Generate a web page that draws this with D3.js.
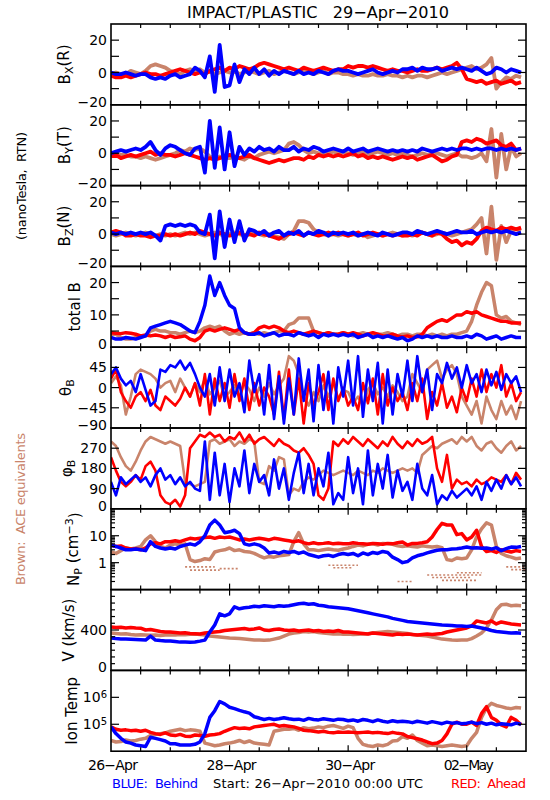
<!DOCTYPE html>
<html><head><meta charset="utf-8">
<script src="https://cdn.jsdelivr.net/npm/d3@7"></script>
<style>body{margin:0;background:#fff}svg{display:block}text{font-family:"DejaVu Sans",sans-serif}</style>
</head><body><svg id="c" width="550" height="800"></svg>
<script>
// ---- time grid: one value every 2 hours from 26-Apr-2010 00:00 UTC ----
const stepHours = 2;
const startDate = Date.UTC(2010, 3, 26);
const endDate = Date.UTC(2010, 4, 3);
const dayLabels = ["26-Apr", "28-Apr", "30-Apr", "02-May"];
const dayLabelHours = [0, 48, 96, 144];

// ---- Bx (R), nT ----
const bxBrown = [-1,0,-1,-1,1,0,-1,1,4,5,4,3, 1,0,-1,1,2,1,2,0,1,-1,0,1, 0,1,-1,0,1,0,-1,0,1,-1,0,1, 0,-1,0,1,0,-1,0,1,-1,0,0,-1, -1,-2,-1,-2,-2,-1,-2,-2,-1,-2,-2,-3, -2,-3,-2,-2,-3,-2,-1,0,-1,0,1,2, 3,4,2,3,5,9,-10,-6,-3,-4,-2,-3];
const bxRed = [-2,-3,-3,-2,-3,-2,-1,0,-1,-1,-2,-1, 0,1,2,1,0,-1,0,-1,1,2,3,1, 3,2,4,3,2,3,5,6,5,4,3,2, 3,2,1,3,2,1,2,3,2,1,2,2, 4,3,4,4,3,4,3,2,1,2,1,1, 0,1,2,1,1,2,3,2,3,4,6,2, -4,-5,-6,-5,-7,-6,-5,-7,-6,-5,-7,-6];
const bxBlue = [0,-1,-1,0,-1,-2,-1,-1,-3,-4,-3,-4, -2,-1,-3,-2,-1,3,1,-3,10,-12,17,-9, -8,5,-6,2,-1,3,-1,2,-2,1,-1,1, 0,-1,1,-1,0,-1,1,0,-1,1,2,1, 1,0,-1,0,1,2,0,-1,0,1,0,2, 2,3,1,3,2,2,3,1,2,3,2,3, 2,1,3,1,-1,0,3,2,0,2,1,0];
// ---- By (T), nT ----
const byBrown = [-1,0,-1,-1,-2,-2,-3,-2,-3,-4,-3,-2, -1,0,2,1,3,2,3,1,-2,-3,-2,-3, -3,-2,-3,-4,-2,-3,-1,0,1,0,1,2, 6,7,5,2,0,1,0,-1,0,1,0,1, 0,-1,0,1,-1,0,1,0,-1,0,-1,0, -1,-2,-1,0,-1,-1,0,-1,-2,-1,0,-2, -2,-3,-2,0,-5,15,-15,12,-10,4,-2,0];
const byRed = [-2,-1,-3,-2,-1,-2,-1,0,1,-1,0,-1, -1,-2,-1,0,-1,-2,-3,-4,-3,-4,-3,-2, -1,-2,-3,-2,-1,-3,-4,-5,-6,-5,-4,-5, -4,-3,-3,-4,-2,-3,-1,-2,-1,-2,-1,-2, -1,0,-2,-1,-3,-2,-3,-2,-3,-4,-3,-2, -3,-2,-4,-3,-2,-1,-3,-5,-4,-2,-1,7, 8,7,9,8,6,7,8,5,4,6,2,3];
const byBlue = [0,1,2,1,2,3,2,4,7,2,-1,3, 5,4,2,0,-1,3,4,-12,20,-9,16,-10, 13,-8,4,-1,3,1,4,2,3,1,4,2, 2,4,1,3,2,4,3,1,2,3,2,1, 3,1,2,3,1,2,3,2,1,2,1,2, 1,2,1,3,2,1,2,3,2,3,2,3, 3,2,3,2,3,3,2,3,2,3,2,3];
// ---- Bz (N), nT ----
const bzBrown = [0,-1,0,1,0,-1,0,1,0,-1,0,-1, 0,-1,0,1,0,1,0,-1,0,1,0,-1, 0,1,0,-1,0,1,0,-1,0,-1,-2,-3, 0,2,8,8,7,3,1,0,-1,0,-1,0, -1,0,-1,0,-2,-1,0,-1,0,1,0,-1, 0,-1,0,1,0,-1,0,1,0,-1,0,1, 2,3,6,10,-12,17,-16,5,-5,2,3,2];
const bzRed = [1,2,1,-1,-1,0,-1,-1,-2,-1,-1,0, -1,0,-1,0,1,0,2,1,0,-1,1,0, -1,0,1,-1,0,-1,1,0,-1,-2,-3,-1, 0,1,0,-1,1,0,-1,0,1,0,1,0, -1,0,1,-1,0,1,0,-1,0,-1,0,-1, -1,0,-1,1,0,-1,1,0,-3,-5,-4,-7, -5,-6,-3,2,4,3,2,4,3,4,3,4];
const bzBlue = [1,0,1,0,1,0,1,0,1,-1,-4,5, 6,5,6,5,6,5,1,0,12,-15,14,-8, 9,-5,8,-4,3,2,0,2,-1,1,2,-1, 1,0,2,-1,1,0,2,1,-1,1,0,1, 0,1,-1,0,1,0,-1,1,0,-1,0,1, 1,0,2,1,0,1,2,1,0,1,2,1, 1,2,0,1,2,1,2,1,2,1,0,1];
// ---- total B, nT ----
const btBrown = [4,4,3,2.5,2.5,3,3.5,3.5,5,5.5,5,5, 4.5,4.5,4,4.5,5,4.5,5,6,6.5,6,6.5,5, 4,4.5,4,4.5,4,4.5,4,4.5,4,4.5,5,5, 7,7.5,9,9,9,5,4.5,4,4.5,4,4,4.5, 4,3.5,4,4.5,4,3.5,4,4,4.5,4,3.5,4, 4,3.5,4,4,3.5,4,3.5,4,3.5,4,4,4.5, 5,8,13,17,20,19,10,9,9.5,8,7.5,7];
const btRed = [4.5,4.3,4.2,4.5,4.3,4,3.5,3.8,3.5,3.8,3.5,3, 3.5,3,3.2,3.5,2.5,2,3,5,5.5,5,5.5,6, 5.5,5,5.5,4.5,4,4.5,6,6.5,6,6.5,6,5, 4.5,5,4.5,4,4.5,5,4.5,4,4.5,4,4,4.5, 4,4.5,4,3.5,4,4.5,4,3.5,3.5,4,3.5,3.2, 3.5,3,3.2,4,6,7,8,8.5,8,9,10,10, 11,10.5,11,10,9.5,9,8.5,8,8,7.5,7.5,7.5];
const btBlue = [3,2.5,2.5,3,2.8,2.5,3,3.5,6,6.5,7,7.5, 8,7.5,7,6,5,4.5,8,13,22,16,20,16, 13,12,6,4.5,4,4,4.5,3.5,4,4.5,3.5,4, 4,3.5,4.5,4,3.5,4,3,4,3.5,4,3.5,4, 3.5,4,3,3.5,4,3,3.5,3,3.5,3,2.5,3, 2,2.5,3.5,3,3.5,3,3.5,3,3,3.5,3,3, 3.5,3,4,3.5,2.5,3,3.5,2.5,3,3.5,3,3];
// ---- theta_B, degrees ----
const thBrown = [10,25,5,-60,-20,30,40,35,30,20,0,10, 15,-10,20,0,-20,10,-10,20,-15,0,15,-20, -10,5,-20,10,-5,-30,0,-20,10,-15,5,20, 70,60,30,-20,-40,-10,-30,5,-20,10,-25,-5, -10,-35,-20,-40,-5,10,-15,0,-20,5,-10,-30, -20,30,10,-10,40,50,60,20,40,50,30,-20, -40,-60,-30,-80,-20,-50,-70,-30,-60,-40,-70,-30];
const thRed = [20,40,-10,-30,-45,-20,-10,-30,-5,-40,-50,-20, -30,-40,-25,0,-20,10,-40,30,-60,20,-30,10, -45,30,-30,20,-50,10,-40,0,-20,-60,35,-70, 40,-60,20,-80,10,-40,-10,30,-50,20,-30,0, -40,-20,-50,10,-35,20,-60,30,-40,0,-30,-10, -50,10,-30,20,-70,-10,-40,10,-45,-20,-55,0, -30,20,-20,40,-10,30,0,50,-20,10,-30,-10];
const thBlue = [30,45,20,5,15,-10,30,-5,-40,-30,40,35, 50,45,60,40,55,30,0,-20,30,-40,45,-30, 40,-20,10,-55,60,-10,30,-60,50,-70,25,-80, 20,-60,65,-30,40,-75,50,-50,35,-80,45,-20, 60,-40,70,-65,40,-30,55,-80,40,-60,30,-20, 60,-30,70,-10,40,-50,30,10,55,20,45,0, 50,10,30,-10,40,5,35,-5,30,10,25,-10];
// ---- phi_B, degrees ----
const phBrown = [300,280,230,190,170,210,260,300,320,310,300,290, 300,290,280,120,110,100,110,120,300,310,290,300, 310,280,300,290,310,300,120,110,190,170,230,220, 60,90,80,120,140,130,150,170,160,150,160,170, 160,150,170,160,150,170,160,180,170,160,170,180, 170,180,160,240,260,280,270,290,300,310,290,320, 300,320,280,260,290,300,270,250,280,300,260,280];
const phRed = [230,170,120,100,120,150,130,190,210,170,60,30, 20,40,10,60,270,300,330,320,340,320,330,300, 320,310,340,300,330,290,310,320,300,280,310,290, 280,260,250,270,240,200,60,40,90,300,280,310, 290,320,300,280,310,290,270,300,280,320,290,270, 300,280,310,290,300,320,180,120,240,90,130,110, 120,100,130,110,120,140,130,120,150,110,160,130];
const phBlue = [120,60,140,110,130,150,120,140,100,150,180,130, 150,110,140,100,120,90,80,300,40,250,60,200, 30,180,100,260,70,200,120,150,60,220,90,180, 40,160,250,70,200,60,180,100,250,20,70,40, 230,70,180,20,260,60,200,90,240,50,170,80, 120,40,200,90,60,150,20,60,40,80,50,70, 90,60,100,40,120,80,130,90,150,110,140,100];
// ---- Np, cm^-3 ----
const npBrown = [2.5,2.2,2.8,3.5,3.2,3.5,4,7,10,6,4,3.5, 4.5,5,4.5,5,1.3,1.1,1.2,1.4,1.3,2.5,2.8,3, 3.5,2.8,3,2.6,2.5,2.2,1.8,1.5,1.7,1.6,1.8,1.9, 2,6,13,5,3,3,2.8,3,3.2,3,2.9,3.2, 3.5,4,4.5,4.2,4.8,5,4.5,5.2,5,4.8,4.2,4, 4.2,4,3.8,4.2,4,3.8,4,3.6,1.3,1.2,1.5,1.4, 1.5,3,9,18,30,25,4,2.2,1.8,1.6,1.4,1.5];
const npRed = [4.5,4,4.2,3.5,3.2,3.3,3,3.5,5,5.5,5,6, 6,6.5,6,7,8,7.5,8,8.5,9,8,9,8.5, 9,8,7,7.5,7,7.5,8,7.5,7,8,7.5,7, 6.5,6,6.5,5.5,5,5.5,5,5.2,5.5,5,5.3,5, 5,5.5,5.2,5,4.8,5.2,5,4.8,5.2,5,5.5,5.8, 4.5,5.2,5.2,5.5,6,9,17,29,25,25,11,12, 7,9,16,4,2.6,2.8,2.4,3,2.7,2.5,2.8,2.6];
const npBlue = [4.5,4,3.5,3,3,3.2,3,2.8,6,4,3.5,3.2, 3.5,3.2,4,4.5,5,4.5,6,10,25,38,25,13, 14,16,12,5,4.5,5,4.5,3.5,2.3,2.5,2.2,2.6, 2.4,2.6,2.2,2.5,2,1.8,1.6,1.8,1.9,1.7,2,2.2, 2,2.2,1.8,2.3,2,2.4,2.2,2.6,2.4,1.6,1.3,1.0, 1.1,1.5,1.8,2,2.3,2.6,2.9,3,3,3.2,3.3,3.5, 3.8,3.5,3.6,3.4,3.5,3.2,3.6,2.8,3.3,3.8,3.7,4];
// sparse low-density ACE readings: [start hour, end hour, value]
const npBrownLow = [[30,42,0.7],[32,44,0.53],[44,52,0.6],[88,100,0.8],[90,98,0.65],[116,122,0.2],[128,150,0.35],[130,146,0.28],[134,148,0.22],[140,150,0.42],[160,168,0.7],[162,168,0.55]];
// ---- V, km/s ----
const vBrown = [370,365,360,362,355,350,352,350,348,350,345,350, 352,350,355,352,358,360,355,350,340,335,330,325, 320,318,315,310,305,300,302,298,300,310,320,340, 360,370,375,385,380,385,375,370,365,360,362,358, 360,355,358,360,362,370,375,380,385,380,375,370, 365,355,350,345,340,330,320,310,305,300,298,300, 300,315,340,370,420,500,600,650,655,640,645,640];
const vRed = [430,425,428,420,425,420,418,400,405,395,385,380, 380,375,370,372,365,362,360,370,375,380,385,395, 400,405,410,415,405,410,420,400,395,405,410,400, 395,400,390,395,400,390,395,385,390,385,395,380, 380,375,370,365,360,370,365,360,355,350,360,355, 360,355,350,355,360,355,360,365,380,390,400,410, 420,440,490,480,470,490,460,480,470,460,455,450];
const vBlue = [320,315,312,310,308,305,303,300,340,300,295,292, 290,285,280,280,278,282,290,300,380,450,560,540, 560,630,610,620,625,635,630,640,635,630,640,635, 640,650,660,665,655,660,645,640,630,625,620,615, 610,600,590,580,570,560,550,540,530,515,505,495, 485,480,475,470,465,460,455,450,448,445,440,440, 435,440,430,420,410,395,385,380,375,370,372,368];
// ---- Ion temperature, thousands of K ----
const tBrown = [25,22,23,26,24,25,28,30,38,42,45,48, 55,60,65,58,62,60,55,20,18,16,17,19, 20,22,25,21,24,20,19,18,17,55,60,65, 65,70,60,75,68,72,80,75,85,90,80,70, 85,75,30,18,16,15,17,16,18,24,25,35, 30,40,25,20,16,17,16,15,16,17,16,15, 16,30,50,180,400,600,500,450,400,380,420,400];
const tRed = [80,65,60,62,58,60,55,60,50,45,42,48, 40,38,42,36,35,40,38,36,40,42,45,55, 65,75,70,72,68,80,85,90,95,100,85,90, 85,80,70,60,58,55,52,55,50,48,52,50, 52,50,48,50,52,48,50,47,45,50,46,44, 35,32,29,26,22,19,20,25,44,100,120,100, 100,120,90,250,450,180,140,95,80,180,140,95];
const tBlue = [80,45,30,22,20,17,16,15,33,30,27,24, 19,19,17,17,17,18,22,45,180,320,700,570, 430,380,330,290,260,190,170,150,165,150,160,175, 160,150,155,140,165,150,145,160,150,140,155,150, 135,145,130,150,140,125,145,130,120,135,125,130, 125,115,130,120,110,125,115,105,120,110,115,105, 110,120,105,115,100,110,95,105,100,95,110,100];

const colors = {brown: "#c9846b", red: "#ff0000", blue: "#0000ff"};

// ---- layout ----
const L = 111, R = 526, TOP = 24, PH = 80.8;
const svg = d3.select("#c");
const x = d3.scaleUtc().domain([new Date(startDate), new Date(endDate)]).range([L, R]);
const tAt = h => new Date(startDate + h * 3600e3);
const hrs = d3.range(bxBlue.length).map(i => i * stepHours);

const linTicks = (a, b, s) => d3.range(a, b + 1e-9, s);
const logMinor = (lo, hi) => { const o = []; for (let d = lo; d < hi; d *= 10) for (let m = 1; m < 10; m++) o.push(d * m); return o.filter(v => v > lo && v < hi); };

const panels = [
  {y: d3.scaleLinear().domain([-20, 30]), s: [bxBrown, bxRed, bxBlue], sw: 3.8, tk: linTicks(-20, 30, 10), lab: [-20, 0, 20], lx: 70, title: [["B"], ["X", "sub"], ["(R)"]]},
  {y: d3.scaleLinear().domain([-20, 30]), s: [byBrown, byRed, byBlue], sw: 3.8, tk: linTicks(-20, 30, 10), lab: [-20, 0, 20], lx: 70, title: [["B"], ["Y", "sub"], ["(T)"]]},
  {y: d3.scaleLinear().domain([-20, 30]), s: [bzBrown, bzRed, bzBlue], sw: 3.8, tk: linTicks(-20, 30, 10), lab: [-20, 0, 20], lx: 70, title: [["B"], ["Z", "sub"], ["(N)"]]},
  {y: d3.scaleLinear().domain([0, 25]), s: [btBrown, btRed, btBlue], sw: 3.5, tk: linTicks(0, 25, 5), lab: [0, 10, 20], lx: 80, title: [["total B"]]},
  {y: d3.scaleLinear().domain([-90, 90]), s: [thBrown, thRed, thBlue], sw: 2.6, tk: [-45, 0, 45], lab: [-90, -45, 0, 45], lx: 71, title: [["\u03b8"], ["B", "sub"]]},
  {y: d3.scaleLinear().domain([0, 360]), s: [phBrown, phRed, phBlue], sw: 2.6, tk: [90, 180, 270], lab: [0, 90, 180, 270], lx: 72, title: [["\u03c6"], ["B", "sub"]]},
  {y: d3.scaleLog().domain([0.1, 100]), s: [npBrown, npRed, npBlue], sw: 3.5, tk: logMinor(0.1, 100), major: [1, 10], lab: [1, 10], lx: 79, title: [["N"], ["P", "sub"], [" (cm"], ["\u22123", "sup"], [")"]], low: npBrownLow},
  {y: d3.scaleLinear().domain([0, 800]), s: [vBrown, vRed, vBlue], sw: 3.5, tk: linTicks(0, 800, 400 / 6), major: [0, 400, 800], lab: [0, 400], lx: 74, title: [["V (km/s)"]]},
  {y: d3.scaleLog().domain([10, 10000]), s: [tBrown, tRed, tBlue], sw: 3.5, tk: [100, 1000], lab: [100, 1000], lx: 77, title: [["Ion Temp"]], fmt: v => ["10", String(Math.round(Math.log10(v * 1000)))]}
];
const serCol = [colors.brown, colors.red, colors.blue];
const fmtNum = v => (v < 0 ? "\u2212" : "") + Math.abs(v);

panels.forEach((p, i) => {
  const top = TOP + i * PH, bot = top + PH;
  p.y.range([bot, top]);
  const cid = "clip" + i;
  svg.append("clipPath").attr("id", cid).append("rect").attr("x", L).attr("y", top).attr("width", R - L).attr("height", PH);
  const gd = svg.append("g").attr("clip-path", `url(#${cid})`);
  if (p.low) {
    p.low.forEach(seg => {
      gd.append("line").attr("x1", x(tAt(seg[0]))).attr("x2", x(tAt(seg[1])))
        .attr("y1", p.y(seg[2])).attr("y2", p.y(seg[2]))
        .attr("stroke", colors.brown).attr("stroke-width", 1.6).attr("stroke-dasharray", "2,2");
    });
  }
  p.s.forEach((arr, j) => {
    const line = d3.line().x((d, k) => x(tAt(hrs[k]))).y(d => p.y(d));
    gd.append("path").attr("d", line(arr)).attr("fill", "none")
      .attr("stroke", serCol[j]).attr("stroke-width", p.sw).attr("stroke-linejoin", "round");
  });
  // frame
  svg.append("rect").attr("x", L).attr("y", top).attr("width", R - L).attr("height", PH)
    .attr("fill", "none").attr("stroke", "#000").attr("stroke-width", 1.6);
  // y ticks both sides
  const isMajor = v => !p.major || p.major.some(m => Math.abs(m - v) < 1e-6);
  p.tk.forEach(v => {
    const yy = p.y(v); if (yy < top + 0.5 || yy > bot - 0.5) return;
    const len = isMajor(v) ? 8 : 4;
    svg.append("line").attr("x1", L).attr("x2", L + len).attr("y1", yy).attr("y2", yy).attr("stroke", "#000").attr("stroke-width", 1.2);
    svg.append("line").attr("x1", R - len).attr("x2", R).attr("y1", yy).attr("y2", yy).attr("stroke", "#000").attr("stroke-width", 1.2);
  });
  // x ticks every 12 h, top and bottom
  d3.range(12, 168, 12).forEach(h => {
    const xx = x(tAt(h)), len = h % 48 === 0 ? 6 : 4;
    svg.append("line").attr("x1", xx).attr("x2", xx).attr("y1", top).attr("y2", top + len).attr("stroke", "#000").attr("stroke-width", 1.2);
    svg.append("line").attr("x1", xx).attr("x2", xx).attr("y1", bot).attr("y2", bot - len).attr("stroke", "#000").attr("stroke-width", 1.2);
  });
  // tick labels
  p.lab.forEach(v => {
    let yy = p.y(v); if (Math.abs(yy - bot) < 1) yy -= 3;
    const t = svg.append("text").attr("x", 107).attr("y", yy).attr("dy", "0.36em").attr("text-anchor", "end").attr("font-size", 14);
    if (p.fmt) { const f = p.fmt(v); t.append("tspan").text(f[0]); t.append("tspan").attr("dy", "-0.45em").attr("font-size", 10).text(f[1]); }
    else t.text(fmtNum(v));
  });
  // axis title
  const tt = svg.append("text").attr("transform", `translate(${p.lx},${(top + bot) / 2}) rotate(-90)`)
    .attr("text-anchor", "middle").attr("font-size", 15);
  let shift = 0;
  p.title.forEach(part => {
    const ts = tt.append("tspan").text(part[0]);
    if (part[1] === "sub") { ts.attr("dy", "0.3em").attr("font-size", 11); shift = 0.3; }
    else if (part[1] === "sup") { ts.attr("dy", (-0.45 - shift) + "em").attr("font-size", 11); shift = -0.45; }
    else if (shift !== 0) { ts.attr("dy", (-shift) + "em"); shift = 0; }
  });
});

// title
svg.append("text").attr("x", 318).attr("y", 18).attr("text-anchor", "middle").attr("font-size", 16)
  .attr("textLength", 262).attr("lengthAdjust", "spacingAndGlyphs").text("IMPACT/PLASTIC\u00a0\u00a0\u00a029\u2212Apr\u22122010");
// left side labels
svg.append("text").attr("transform", "translate(26,186) rotate(-90)").attr("text-anchor", "middle").attr("font-size", 13)
  .attr("textLength", 108).text("(nanoTesla,\u00a0\u00a0RTN)");
svg.append("text").attr("transform", "translate(25,509) rotate(-90)").attr("text-anchor", "middle").attr("font-size", 13)
  .attr("fill", colors.brown).attr("textLength", 152).text("Brown:\u00a0 ACE equivalents");
// date labels
dayLabels.forEach((d, i) => {
  svg.append("text").attr("x", x(tAt(dayLabelHours[i])) + 2).attr("y", 770).attr("text-anchor", "middle").attr("font-size", 14)
    .attr("textLength", 50).text(d.replace("-", "\u2212"));
});
svg.append("text").attr("x", 112).attr("y", 788).attr("font-size", 13).attr("fill", colors.blue).attr("textLength", 86).text("BLUE:\u00a0 Behind");
svg.append("text").attr("x", 213).attr("y", 788).attr("font-size", 13).attr("textLength", 210).text("Start:\u00a026\u2212Apr\u22122010\u00a000:00\u00a0UTC");
svg.append("text").attr("x", 526).attr("y", 788).attr("text-anchor", "end").attr("font-size", 13).attr("fill", colors.red).attr("textLength", 75).text("RED:\u00a0 Ahead");
</script></body></html>
